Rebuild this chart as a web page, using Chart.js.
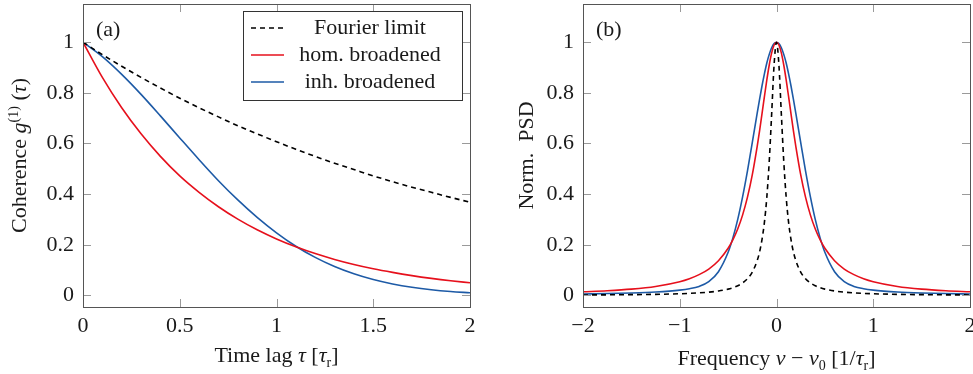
<!DOCTYPE html>
<html>
<head>
<meta charset="utf-8">
<script src="https://cdn.jsdelivr.net/npm/chart.js@4"></script>
<style>
  html, body { margin: 0; padding: 0; background: #fff; overflow: hidden; }
  #wrapA { position: absolute; left: 0; top: 0; width: 480px; height: 374px; }
  #wrapB { position: absolute; left: 490px; top: 0; width: 483px; height: 374px; }
</style>
</head>
<body>
<div id="wrapA"><canvas id="chartA"></canvas></div>
<div id="wrapB"><canvas id="chartB"></canvas></div>
<script>
// Panel (a): coherence vs time lag
const tau = [0, 0.1, 0.2, 0.3, 0.4, 0.5, 0.6, 0.7, 0.8, 0.9, 1.0,
             1.1, 1.2, 1.3, 1.4, 1.5, 1.6, 1.7, 1.8, 1.9, 2.0];
const cohFourier = [1, 0.951, 0.905, 0.861, 0.819, 0.779, 0.741, 0.705, 0.670, 0.638, 0.607,
                    0.577, 0.549, 0.522, 0.497, 0.472, 0.449, 0.427, 0.407, 0.387, 0.368];
const cohHom = [1, 0.861, 0.741, 0.638, 0.549, 0.472, 0.407, 0.350, 0.301, 0.259, 0.223,
                0.192, 0.165, 0.142, 0.122, 0.105, 0.0907, 0.0781, 0.0672, 0.0578, 0.0498];
const cohInh = [1, 0.943, 0.873, 0.794, 0.709, 0.622, 0.536, 0.453, 0.377, 0.308, 0.247,
                0.194, 0.150, 0.114, 0.0851, 0.0623, 0.0449, 0.0317, 0.0220, 0.0150, 0.0100];
const tauTicks = [0, 0.5, 1, 1.5, 2];
const cohTicks = [0, 0.2, 0.4, 0.6, 0.8, 1];

// Panel (b): normalized PSD vs frequency
const nu = [-2, -1.75, -1.5, -1.25, -1, -0.9, -0.8, -0.7, -0.6, -0.5, -0.45, -0.4, -0.35, -0.3,
            -0.25, -0.2, -0.175, -0.15, -0.125, -0.1, -0.075, -0.05, -0.025, 0,
            0.025, 0.05, 0.075, 0.1, 0.125, 0.15, 0.175, 0.2, 0.25, 0.3, 0.35, 0.4, 0.45,
            0.5, 0.6, 0.7, 0.8, 0.9, 1, 1.25, 1.5, 1.75, 2];
const psdFourier = [0.0016, 0.0021, 0.0028, 0.0040, 0.0063, 0.0078, 0.0098, 0.0128, 0.0173, 0.0247,
                    0.0303, 0.0381, 0.0492, 0.0657, 0.092, 0.137, 0.171, 0.220, 0.288, 0.388,
                    0.530, 0.717, 0.910, 1,
                    0.910, 0.717, 0.530, 0.388, 0.288, 0.220, 0.171, 0.137, 0.092, 0.0657,
                    0.0492, 0.0381, 0.0303, 0.0247, 0.0173, 0.0128, 0.0098, 0.0078, 0.0063,
                    0.0040, 0.0028, 0.0021, 0.0016];
const psdHom = [0.0140, 0.0183, 0.0247, 0.0352, 0.0539, 0.0657, 0.0818, 0.104, 0.137, 0.186,
                0.220, 0.263, 0.318, 0.388, 0.477, 0.588, 0.650, 0.717, 0.785, 0.851,
                0.910, 0.958, 0.989, 1,
                0.989, 0.958, 0.910, 0.851, 0.785, 0.717, 0.650, 0.588, 0.477, 0.388,
                0.318, 0.263, 0.220, 0.186, 0.137, 0.104, 0.0818, 0.0657, 0.0539,
                0.0352, 0.0247, 0.0183, 0.0140];
const psdInh = [0.0055, 0.0071, 0.0095, 0.0135, 0.0208, 0.0261, 0.0354, 0.0543, 0.0935, 0.170,
                0.228, 0.301, 0.390, 0.492, 0.604, 0.719, 0.774, 0.827, 0.875, 0.918,
                0.952, 0.978, 0.9945, 1,
                0.9945, 0.978, 0.952, 0.918, 0.875, 0.827, 0.774, 0.719, 0.604, 0.492,
                0.390, 0.301, 0.228, 0.170, 0.0935, 0.0543, 0.0354, 0.0261, 0.0208,
                0.0135, 0.0095, 0.0071, 0.0055];
const nuTicks = [-2, -1, 0, 1, 2];
const psdTicks = [0, 0.2, 0.4, 0.6, 0.8, 1];

const seriesNames = ['Fourier limit', 'hom. broadened', 'inh. broadened'];

// axis titles as runs: [text, style] with style n(ormal), i(talic), sup, sub
const titleTau = [['Time lag ', 'n'], ['\u03c4', 'i'], [' [', 'n'], ['\u03c4', 'i'], ['r', 'sub'], [']', 'n']];
const titleCoh = [['Coherence ', 'n'], ['g', 'i'], ['(1)', 'sup'], [' (', 'n'], ['\u03c4', 'i'], [')', 'n']];
const titleNu = [['Frequency ', 'n'], ['\u03bd', 'i'], [' \u2212 ', 'n'], ['\u03bd', 'i'], ['0', 'sub'],
                 [' [1/', 'n'], ['\u03c4', 'i'], ['r', 'sub'], [']', 'n']];
const titlePsd = [['Norm.  PSD', 'n']];

const serif = "'Liberation Serif', 'DejaVu Serif', serif";
const fontSize = 22;
const red = '#e6101c';
const blue = '#1d5aa6';
const textColor = '#1a1a1a';

function pts(xs, ys) {
    return xs.map((x, i) => ({ x: x, y: ys[i] }));
}

function lineDs(label, xs, ys, color, dashed) {
    return {
        label: label,
        data: pts(xs, ys),
        borderColor: color,
        borderWidth: 1.6,
        borderDash: dashed ? [5, 4] : [],
        pointRadius: 0,
        fill: false,
        cubicInterpolationMode: 'monotone'
    };
}

function runFont(style) {
    if (style === 'i') return 'italic ' + fontSize + 'px ' + serif;
    if (style === 'sup' || style === 'sub') return Math.round(fontSize * 0.62) + 'px ' + serif;
    return fontSize + 'px ' + serif;
}

// draws a run list centred on (0,0) of the current transform
function drawRuns(ctx, runs) {
    let total = 0;
    runs.forEach(r => { ctx.font = runFont(r[1]); total += ctx.measureText(r[0]).width; });
    let x = -total / 2;
    runs.forEach(r => {
        ctx.font = runFont(r[1]);
        const dy = r[1] === 'sup' ? -8 : (r[1] === 'sub' ? 5 : 0);
        ctx.fillText(r[0], x, dy);
        x += ctx.measureText(r[0]).width;
    });
}

// frame, inside ticks, axis titles, panel label and the boxed legend
const framePlugin = {
    id: 'frame',
    afterDatasetsDraw(chart, args, opts) {
        const { ctx, chartArea: a, scales: { x, y } } = chart;
        ctx.save();
        ctx.lineWidth = 1;
        ctx.strokeStyle = '#9a9a9a';
        ctx.beginPath();
        x.ticks.forEach(t => {
            const px = Math.round(x.getPixelForValue(t.value)) + 0.5;
            ctx.moveTo(px, a.bottom); ctx.lineTo(px, a.bottom - 8);
            ctx.moveTo(px, a.top); ctx.lineTo(px, a.top + 8);
        });
        y.ticks.forEach(t => {
            const py = Math.round(y.getPixelForValue(t.value)) + 0.5;
            ctx.moveTo(a.left, py); ctx.lineTo(a.left + 8, py);
            ctx.moveTo(a.right, py); ctx.lineTo(a.right - 8, py);
        });
        ctx.stroke();
        ctx.strokeStyle = '#555';
        ctx.strokeRect(Math.round(a.left) + 0.5, Math.round(a.top) + 0.5,
                       Math.round(a.width), Math.round(a.height));

        ctx.fillStyle = textColor;
        ctx.textBaseline = 'alphabetic';
        ctx.textAlign = 'left';

        // x title
        ctx.save();
        ctx.translate((a.left + a.right) / 2, opts.xTitleY);
        drawRuns(ctx, opts.xTitle);
        ctx.restore();
        // y title
        ctx.save();
        ctx.translate(opts.yTitleX, (a.top + a.bottom) / 2);
        ctx.rotate(-Math.PI / 2);
        drawRuns(ctx, opts.yTitle);
        ctx.restore();

        ctx.font = fontSize + 'px ' + serif;
        ctx.textBaseline = 'middle';
        ctx.fillText(opts.label, a.left + 13, a.top + 26);

        if (opts.legend) {
            const bx = a.left + 160, by = a.top + 7, bw = 219, bh = 89;
            ctx.fillStyle = '#fff';
            ctx.fillRect(bx, by, bw, bh);
            ctx.strokeStyle = '#333';
            ctx.strokeRect(bx + 0.5, by + 0.5, bw, bh);
            chart.data.datasets.forEach((ds, i) => {
                const cy = by + 17 + i * 27;
                ctx.strokeStyle = ds.borderColor;
                ctx.lineWidth = 1.6;
                ctx.setLineDash(ds.borderDash);
                ctx.beginPath();
                ctx.moveTo(bx + 8, cy); ctx.lineTo(bx + 41, cy);
                ctx.stroke();
                ctx.setLineDash([]);
                ctx.fillStyle = textColor;
                ctx.textAlign = 'center';
                ctx.fillText(ds.label, bx + 127, cy);
            });
        }
        ctx.restore();
    }
};

function fmt(v) {
    return String(v).replace('-', '\u2212');
}

function makeOptions(cfg) {
    return {
        responsive: true,
        maintainAspectRatio: false,
        animation: false,
        events: [],
        layout: { padding: { left: 0, top: 4, right: cfg.padRight, bottom: 0 } },
        plugins: {
            legend: { display: false },
            tooltip: { enabled: false },
            frame: {
                label: cfg.label, legend: cfg.legend,
                xTitle: cfg.xTitle, xTitleY: cfg.xTitleY,
                yTitle: cfg.yTitle, yTitleX: cfg.yTitleX
            }
        },
        scales: {
            x: {
                type: 'linear',
                min: cfg.xMin, max: cfg.xMax,
                grid: { display: false, drawTicks: false },
                border: { display: false },
                afterBuildTicks: s => { s.ticks = cfg.xTicks.map(v => ({ value: v })); },
                afterFit: s => { s.height = 67; s.paddingLeft = 0; s.paddingRight = 0; },
                ticks: {
                    color: textColor, padding: 6, maxRotation: 0,
                    font: { family: serif, size: fontSize },
                    callback: v => fmt(v)
                }
            },
            y: {
                min: -0.046, max: 1.151,
                grid: { display: false, drawTicks: false },
                border: { display: false },
                afterBuildTicks: s => { s.ticks = cfg.yTicks.map(v => ({ value: v })); },
                afterFit: s => { s.width = cfg.yWidth; s.paddingTop = 0; s.paddingBottom = 0; },
                ticks: {
                    color: textColor, padding: 9,
                    font: { family: serif, size: fontSize },
                    callback: v => fmt(v)
                }
            }
        }
    };
}

new Chart(document.getElementById('chartA'), {
    type: 'line',
    data: {
        datasets: [
            lineDs(seriesNames[0], tau, cohFourier, '#000', true),
            lineDs(seriesNames[1], tau, cohHom, red, false),
            lineDs(seriesNames[2], tau, cohInh, blue, false)
        ]
    },
    options: makeOptions({
        label: '(a)', legend: true, padRight: 10, yWidth: 83,
        xMin: 0, xMax: 2, xTicks: tauTicks, yTicks: cohTicks,
        xTitle: titleTau, xTitleY: 362,
        yTitle: titleCoh, yTitleX: 26
    }),
    plugins: [framePlugin]
});

new Chart(document.getElementById('chartB'), {
    type: 'line',
    data: {
        datasets: [
            lineDs(seriesNames[0], nu, psdFourier, '#000', true),
            lineDs(seriesNames[1], nu, psdHom, red, false),
            lineDs(seriesNames[2], nu, psdInh, blue, false)
        ]
    },
    options: makeOptions({
        label: '(b)', legend: false, padRight: 3, yWidth: 93,
        xMin: -2, xMax: 2, xTicks: nuTicks, yTicks: psdTicks,
        xTitle: titleNu, xTitleY: 365,
        yTitle: titlePsd, yTitleX: 43
    }),
    plugins: [framePlugin]
});
</script>
</body>
</html>
